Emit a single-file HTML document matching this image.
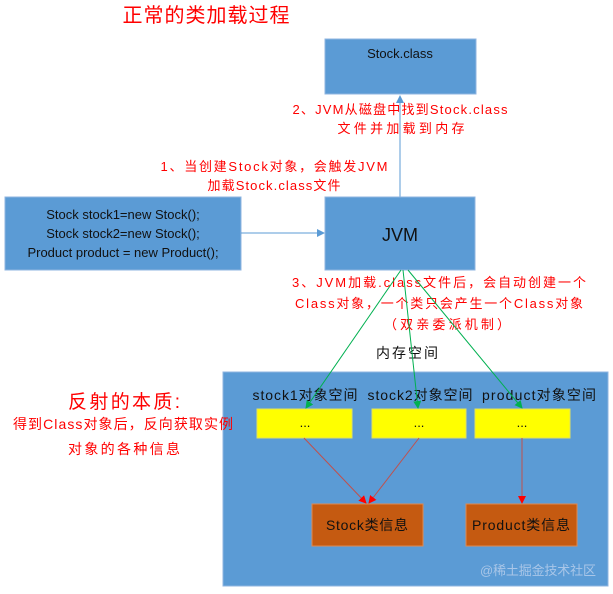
<!DOCTYPE html>
<html><head><meta charset="utf-8"><style>
html,body{margin:0;padding:0;background:#fff;}
svg{display:block;}
text{font-family:"Liberation Sans","Noto Sans CJK SC",sans-serif;}
</style></head><body>
<svg width="613" height="594" viewBox="0 0 613 594" xmlns="http://www.w3.org/2000/svg">
<defs>
<marker id="ab" markerWidth="8" markerHeight="8" refX="7" refY="4" orient="auto" markerUnits="userSpaceOnUse"><path d="M0,0 L8,4 L0,8 z" fill="#5b9bd5"/></marker>
<marker id="ag" markerWidth="8" markerHeight="8" refX="7" refY="4" orient="auto" markerUnits="userSpaceOnUse"><path d="M0,0 L8,4 L0,8 z" fill="#00b050"/></marker>
<marker id="ar" markerWidth="8" markerHeight="8" refX="7" refY="4" orient="auto" markerUnits="userSpaceOnUse"><path d="M0,0 L8,4 L0,8 z" fill="#ff0000"/></marker>
</defs>
<text x="206" y="22" font-size="20" fill="#ff0000" text-anchor="middle" textLength="167">正常的类加载过程</text>
<rect x="325" y="39" width="151" height="55" fill="#5b9bd5" stroke="#8fb4e0"/>
<text x="400" y="58" font-size="13" fill="#111" text-anchor="middle">Stock.class</text>
<line x1="400" y1="197" x2="400" y2="96" stroke="#5b9bd5" stroke-width="1" marker-end="url(#ab)"/>
<g fill="#ff0000" font-size="13" text-anchor="middle">
<text x="400" y="114" textLength="215">2、JVM从磁盘中找到Stock.class</text>
<text x="401" y="133" textLength="127">文件并加载到内存</text>
<text x="274" y="171" textLength="227">1、当创建Stock对象，会触发JVM</text>
<text x="274" y="190" textLength="133">加载Stock.class文件</text>
<text x="439" y="287" textLength="294">3、JVM加载.class文件后，会自动创建一个</text>
<text x="439" y="308" textLength="288">Class对象，一个类只会产生一个Class对象</text>
<text x="447" y="329" textLength="126">（双亲委派机制）</text>
</g>
<rect x="5" y="197" width="236" height="73" fill="#5b9bd5" stroke="#8fb4e0"/>
<g font-size="13" fill="#111" text-anchor="middle">
<text x="123" y="219">Stock stock1=new Stock();</text>
<text x="123" y="238">Stock stock2=new Stock();</text>
<text x="123" y="257">Product product = new Product();</text>
</g>
<line x1="241" y1="233" x2="324" y2="233" stroke="#5b9bd5" marker-end="url(#ab)"/>
<rect x="325" y="197" width="150" height="73" fill="#5b9bd5" stroke="#8fb4e0"/>
<text x="400" y="241" font-size="18" fill="#111" text-anchor="middle">JVM</text>
<text x="407" y="358" font-size="14" fill="#111" text-anchor="middle" textLength="62">内存空间</text>
<rect x="223" y="372" width="385" height="214" fill="#5b9bd5" stroke="#8fb4e0"/>
<text x="124" y="408" font-size="19" fill="#ff0000" text-anchor="middle" textLength="112">反射的本质:</text>
<text x="123" y="429" font-size="14" fill="#ff0000" text-anchor="middle" textLength="220">得到Class对象后，反向获取实例</text>
<text x="124" y="454" font-size="14" fill="#ff0000" text-anchor="middle" textLength="112">对象的各种信息</text>
<g font-size="14" fill="#111" text-anchor="middle">
<text x="305" y="400" textLength="105">stock1对象空间</text>
<text x="420" y="400" textLength="105">stock2对象空间</text>
<text x="539" y="400" textLength="114">product对象空间</text>
</g>
<rect x="257" y="409" width="95" height="29" fill="#ffff00" stroke="#e0e060"/>
<rect x="372" y="409" width="94" height="29" fill="#ffff00" stroke="#e0e060"/>
<rect x="475" y="409" width="95" height="29" fill="#ffff00" stroke="#e0e060"/>
<g font-size="13" fill="#111" text-anchor="middle">
<text x="305" y="427">...</text><text x="419" y="427">...</text><text x="522" y="427">...</text>
</g>
<g stroke="#00b050" stroke-width="1">
<line x1="401" y1="270" x2="306" y2="408" marker-end="url(#ag)"/>
<line x1="403" y1="270" x2="418" y2="408" marker-end="url(#ag)"/>
<line x1="408" y1="270" x2="522" y2="408" marker-end="url(#ag)"/>
</g>
<g stroke="#c0504d" stroke-width="1">
<line x1="304" y1="438" x2="366" y2="503" marker-end="url(#ar)"/>
<line x1="419" y1="438" x2="369" y2="503" marker-end="url(#ar)"/>
<line x1="522" y1="438" x2="522" y2="503" marker-end="url(#ar)"/>
</g>
<rect x="312" y="504" width="111" height="42" fill="#c55a11" stroke="#e08a50"/>
<rect x="466" y="504" width="111" height="42" fill="#c55a11" stroke="#e08a50"/>
<text x="367" y="530" font-size="14" fill="#111" text-anchor="middle" textLength="82">Stock类信息</text>
<text x="521" y="530" font-size="14" fill="#111" text-anchor="middle" textLength="98">Product类信息</text>
<text x="538" y="575" font-size="13" fill="#a9c6e8" text-anchor="middle" textLength="116">@稀土掘金技术社区</text>
</svg>
</body></html>
